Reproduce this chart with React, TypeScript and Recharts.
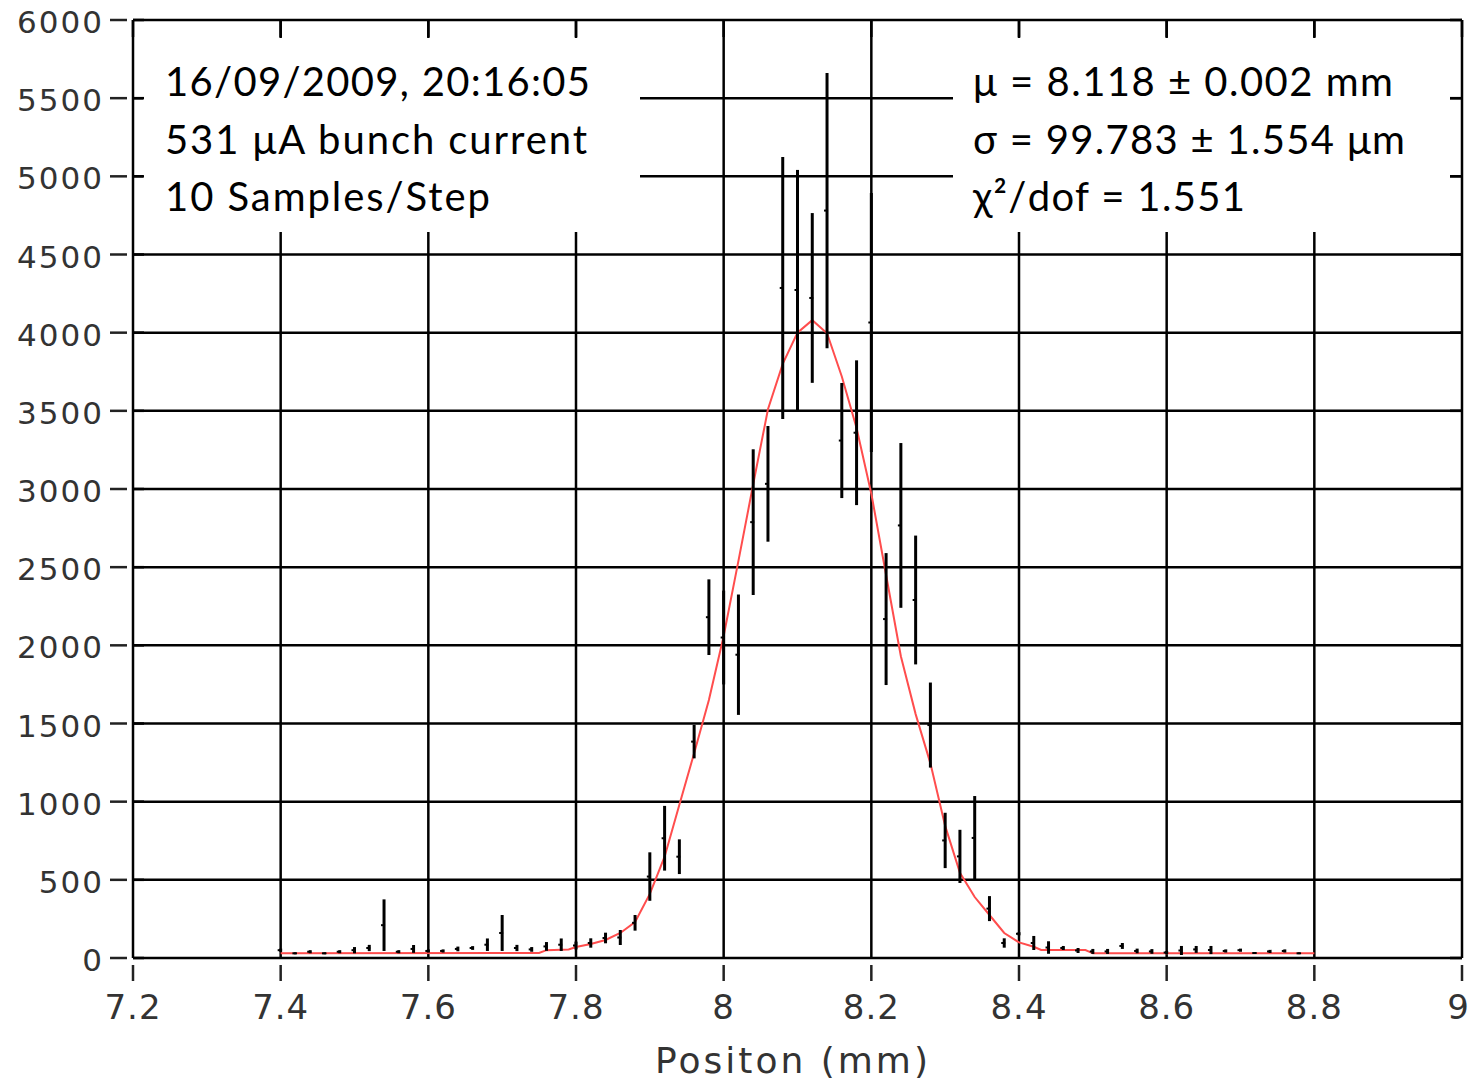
import React from 'react';
import {
  ComposedChart,
  XAxis,
  YAxis,
  CartesianGrid,
  Line,
  Scatter,
  ErrorBar,
  ReferenceArea,
} from 'recharts';

// ---------- data ----------
const xTicks = [7.2, 7.4, 7.6, 7.8, 8, 8.2, 8.4, 8.6, 8.8, 9];
const yTicks = [0, 500, 1000, 1500, 2000, 2500, 3000, 3500, 4000, 4500, 5000, 5500, 6000];

const positions = [
  7.40, 7.42, 7.44, 7.46, 7.48, 7.50, 7.52, 7.54, 7.56, 7.58,
  7.60, 7.62, 7.64, 7.66, 7.68, 7.70, 7.72, 7.74, 7.76, 7.78,
  7.80, 7.82, 7.84, 7.86, 7.88, 7.90, 7.92, 7.94, 7.96, 7.98,
  8.00, 8.02, 8.04, 8.06, 8.08, 8.10, 8.12, 8.14, 8.16, 8.18,
  8.20, 8.22, 8.24, 8.26, 8.28, 8.30, 8.32, 8.34, 8.36, 8.38,
  8.40, 8.42, 8.44, 8.46, 8.48, 8.50, 8.52, 8.54, 8.56, 8.58,
  8.60, 8.62, 8.64, 8.66, 8.68, 8.70, 8.72, 8.74, 8.76, 8.78,
];
const counts = [
  50, 30, 40, 30, 40, 50, 64, 210, 40, 58,
  45, 45, 58, 64, 85, 160, 64, 55, 74, 85,
  80, 96, 128, 131, 225, 521, 766, 648, 1384, 2180,
  2050, 1940, 2788, 3033, 4286, 4273, 4222, 4781, 3310, 3360,
  4065, 2168, 2767, 2290, 1490, 752, 650, 768, 316, 96,
  155, 96, 67, 64, 48, 42, 42, 77, 45, 42,
  35, 48, 55, 51, 45, 50, 32, 42, 45, 30,
];
const errors = [
  10, 6, 10, 6, 10, 20, 20, 165, 10, 25,
  10, 10, 15, 12, 40, 115, 20, 15, 28, 40,
  25, 30, 34, 48, 50, 155, 207, 111, 107, 242,
  300, 385, 466, 370, 838, 768, 543, 880, 368, 463,
  828, 422, 527, 412, 272, 177, 170, 268, 80, 30,
  10, 45, 40, 13, 16, 16, 16, 19, 15, 15,
  10, 29, 22, 26, 10, 10, 5, 10, 10, 5,
];

const fitX = [
  7.40, 7.75, 7.76, 7.79, 7.80, 7.82, 7.84, 7.86, 7.88, 7.90,
  7.92, 7.94, 7.96, 7.98, 8.00, 8.02, 8.04, 8.06, 8.08, 8.10,
  8.12, 8.14, 8.16, 8.18, 8.20, 8.22, 8.24, 8.26, 8.28, 8.30,
  8.32, 8.34, 8.36, 8.38, 8.40, 8.42, 8.43, 8.49, 8.50, 8.80,
];
const fitY = [
  30, 32, 50, 55, 70, 90, 115, 160, 230, 410,
  648, 980, 1310, 1650, 2060, 2540, 3030, 3510, 3800, 4000,
  4080, 3996, 3720, 3390, 2970, 2450, 1930, 1560, 1245, 845,
  545, 390, 275, 160, 100, 72, 51, 51, 30, 30,
];

const infoLeft = ['16/09/2009, 20:16:05', '531 μA bunch current', '10 Samples/Step'];
const infoRight = ['μ = 8.118 ± 0.002 mm', 'σ = 99.783 ± 1.554 μm', 'χ²/dof = 1.551'];
const xLabel = 'Positon (mm)';

// ---------- derived series ----------
const points = positions.map((x, i) => ({ x, y: counts[i], err: errors[i] }));
const fit = fitX.map((x, i) => ({ x, y: fitY[i] }));

// ---------- layout ----------
const W = 1471;
const H = 1082;
const PL = 133; // plot left
const PR = 1462; // plot right
const PT = 20; // plot top
const PB = 958; // plot bottom

const leftLineW = [425, 422, 325];
const rightLineW = [420, 432, 272];
const lineDy = [58, 116, 173];

const tickFont = '"DejaVu Sans", Verdana, sans-serif';
const annFont = 'Lato, "Open Sans", "DejaVu Sans", sans-serif';

const LeftTick = (p: any) => {
  const y = p.y;
  return (
    <g>
      <line x1={110} x2={127} y1={y} y2={y} stroke="#222" strokeWidth={2.5} />
      <line x1={PL} x2={PL + 11} y1={y} y2={y} stroke="#000" strokeWidth={2.5} />
      <text
        x={104}
        y={y + 13}
        textAnchor="end"
        fontFamily={tickFont}
        fontSize={31}
        letterSpacing={2}
        fill="#333"
      >
        {String(p.payload.value)}
      </text>
    </g>
  );
};

const RightTick = (p: any) => {
  const y = p.y;
  return <line x1={PR - 12} x2={PR} y1={y} y2={y} stroke="#000" strokeWidth={2.5} />;
};

const BottomTick = (p: any) => {
  const x = p.x;
  const isLast = p.payload.value === xTicks[xTicks.length - 1];
  return (
    <g>
      <line x1={x} x2={x} y1={965} y2={981} stroke="#222" strokeWidth={2.5} />
      <text
        x={isLast ? x - 4 : x}
        y={1019}
        textAnchor="middle"
        fontFamily={tickFont}
        fontSize={34}
        letterSpacing={isLast ? 0 : 1}
        fill="#333"
      >
        {String(p.payload.value)}
      </text>
    </g>
  );
};

const TopTick = (p: any) => {
  const x = p.x;
  return <line x1={x} x2={x} y1={PT} y2={PT + 17} stroke="#000" strokeWidth={2.5} />;
};

const makeBox = (lines: string[], widths: number[], pad: number) => (p: any) => {
  const { x, y, width, height } = p;
  return (
    <g>
      <rect x={x} y={y} width={width} height={height} fill="#fff" stroke="none" />
      {lines.map((t, i) => (
        <text
          key={i}
          x={x + pad}
          y={y + lineDy[i]}
          fontFamily={annFont}
          fontSize={40}
          fill="#000"
          textLength={widths[i]}
          lengthAdjust="spacing"
        >
          {t}
        </text>
      ))}
    </g>
  );
};

const LeftBox = makeBox(infoLeft, leftLineW, 22);
const RightBox = makeBox(infoRight, rightLineW, 20);

const pxToX = (px: number) => 7.2 + ((px - PL) / (PR - PL)) * 1.8;
const pxToY = (py: number) => ((PB - py) / (PB - PT)) * 6000;

const AxisLabel = () => (
  <text
    x={791.5}
    y={1073}
    textAnchor="middle"
    fontFamily={tickFont}
    fontSize={36}
    fill="#333"
    textLength={273}
    lengthAdjust="spacing"
  >
    {xLabel}
  </text>
);

const Marker = (p: any) => {
  if (p.cx == null || p.cy == null) return <g />;
  return <rect x={p.cx - 3} y={p.cy - 1} width={4} height={2} fill="#000" />;
};

export default function App() {
  return (
    <div style={{ position: 'absolute', left: 0, top: 0, background: '#fff' }}>
      <ComposedChart width={W} height={H} margin={{ top: 0, right: 0, bottom: 0, left: 0 }}>
        <CartesianGrid stroke="#000" strokeWidth={2.5} strokeOpacity={1} />
        <ReferenceArea
          x1={pxToX(143)}
          x2={pxToX(640)}
          y1={pxToY(232)}
          y2={pxToY(38)}
          ifOverflow="visible"
          shape={LeftBox}
        />
        <ReferenceArea
          x1={pxToX(953)}
          x2={pxToX(1450)}
          y1={pxToY(232)}
          y2={pxToY(38)}
          ifOverflow="visible"
          shape={RightBox}
        />
        <Line
          data={fit}
          dataKey="y"
          type="linear"
          stroke="#ff4d4d"
          strokeWidth={2}
          dot={false}
          activeDot={false}
          isAnimationActive={false}
        />
        <Scatter data={points} dataKey="y" shape={Marker} isAnimationActive={false}>
          <ErrorBar dataKey="err" direction="y" width={0} stroke="#000" strokeWidth={3} isAnimationActive={false} />
        </Scatter>
        <XAxis
          dataKey="x"
          type="number"
          domain={[7.2, 9]}
          ticks={xTicks}
          interval={0}
          allowDataOverflow
          height={124}
          axisLine={false}
          tickLine={false}
          tick={BottomTick}
          label={<AxisLabel />}
        />
        <XAxis
          xAxisId="top"
          orientation="top"
          dataKey="x"
          type="number"
          domain={[7.2, 9]}
          ticks={xTicks}
          interval={0}
          allowDataOverflow
          height={20}
          axisLine={false}
          tickLine={false}
          tick={TopTick}
        />
        <YAxis
          type="number"
          domain={[0, 6000]}
          ticks={yTicks}
          interval={0}
          allowDataOverflow
          width={133}
          axisLine={false}
          tickLine={false}
          tick={LeftTick}
        />
        <YAxis
          yAxisId="right"
          orientation="right"
          type="number"
          domain={[0, 6000]}
          ticks={yTicks}
          interval={0}
          allowDataOverflow
          width={9}
          axisLine={false}
          tickLine={false}
          tick={RightTick}
        />
      </ComposedChart>
    </div>
  );
}
